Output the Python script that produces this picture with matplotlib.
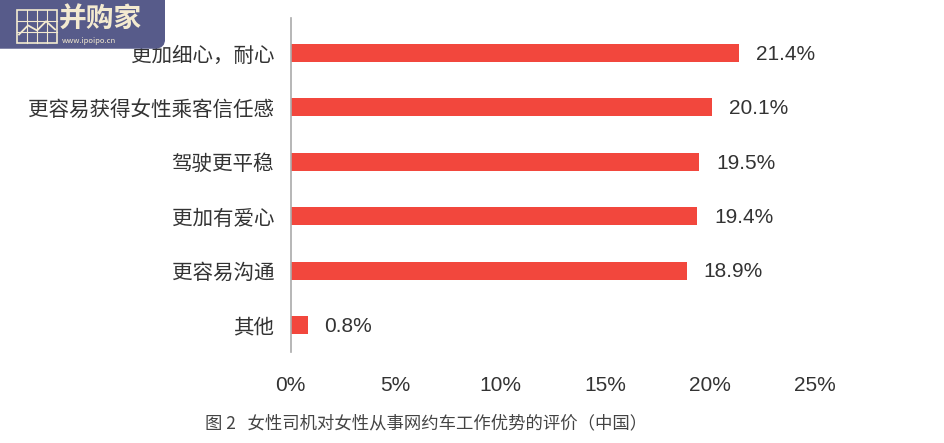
import matplotlib.pyplot as plt
from matplotlib.patches import FancyBboxPatch, Rectangle
import numpy as np

plt.rcParams['font.family'] = ['Noto Sans CJK SC', 'DejaVu Sans']

categories = ['其他', '更容易沟通', '更加有爱心', '驾驶更平稳', '更容易获得女性乘客信任感', '更加细心，耐心']
values = [0.8, 18.9, 19.4, 19.5, 20.1, 21.4]
xticks = [0, 5, 10, 15, 20, 25]
caption = '图 2   女性司机对女性从事网约车工作优势的评价（中国）'

bar_color = '#f2473d'
text_color = '#333333'
num_font = ['Liberation Sans', 'DejaVu Sans']

fig = plt.figure(figsize=(9.44, 4.43), dpi=100)
ax = fig.add_axes([0.308, 0.205, 0.555, 0.754])

y = np.arange(len(categories))
ax.barh(y, values, height=0.33, color=bar_color)
for yi, v in zip(y, values):
    ax.annotate(f'{v}%', (v, yi), xytext=(12, -1), textcoords='offset points',
                va='center', ha='left', fontsize=15, color=text_color, family=num_font)

ax.set_xlim(0, 25)
ax.set_ylim(-0.5, 5.64)
ax.set_xticks(xticks)
ax.set_xticklabels([f'{t}%' for t in xticks], fontsize=15, color=text_color, family=num_font)
ax.set_yticks(y)
ax.set_yticklabels(categories, fontsize=14.8, color=text_color)
ax.tick_params(axis='both', length=0)
ax.tick_params(axis='x', pad=17)
ax.tick_params(axis='y', pad=12)
for s in ['top', 'right', 'bottom']:
    ax.spines[s].set_visible(False)
ax.spines['left'].set_color('#aaaaaa')
ax.spines['left'].set_linewidth(1.2)

fig.text(0.217, 0.045, caption, fontsize=12.5, color='#444444', va='center', ha='left')

# logo in top-left corner
logo = fig.add_axes([0, 0.89, 0.175, 0.11])
logo.set_xlim(0, 165)
logo.set_ylim(0, 48)
logo.axis('off')
logo.add_patch(FancyBboxPatch((-10, 0), 175, 60, boxstyle='round,pad=0,rounding_size=10',
                              fc='#575b8a', ec='none'))
logo.add_patch(Rectangle((17, 6), 40, 32, fc='none', ec='#f3ead0', lw=1.2))
for gx in [27, 37, 47]:
    logo.plot([gx, gx], [6, 38], color='#f3ead0', lw=0.8)
for gy in [16.5, 27]:
    logo.plot([17, 57], [gy, gy], color='#f3ead0', lw=0.8)
logo.plot([19, 28, 37, 46, 55], [14, 23, 18, 27, 19], color='#f3ead0', lw=1.3)
logo.text(59, 29, '并购家', fontsize=20, fontweight='bold', color='#f3ead0', va='center', ha='left')
logo.text(62, 8, 'www.ipoipo.cn', fontsize=5.5, color='#f3ead0', va='center', ha='left')

fig.savefig('out.png', dpi=100)
